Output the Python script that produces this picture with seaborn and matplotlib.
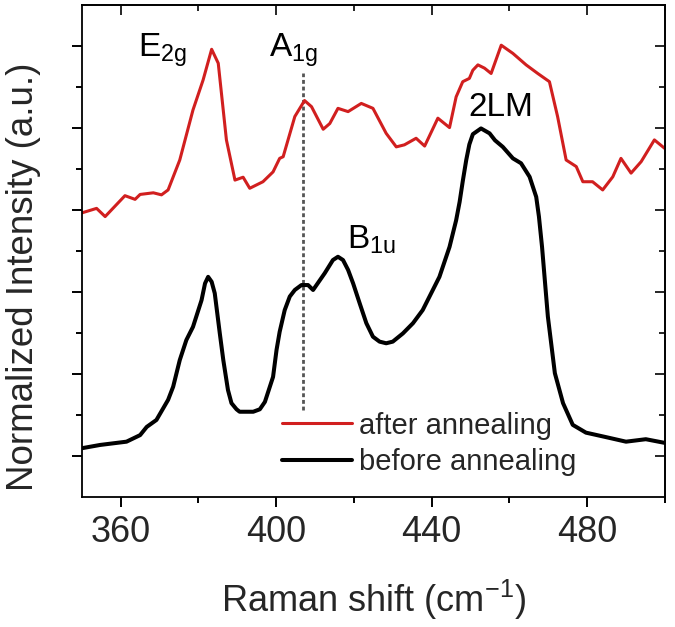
import numpy as np
import pandas as pd
import matplotlib
matplotlib.use("Agg")
import matplotlib.pyplot as plt
import seaborn as sns
from matplotlib.ticker import MultipleLocator, FixedLocator, NullFormatter

# ---------------- data ----------------
after_x = [350.0, 353.8, 356.0, 361.1, 363.7, 365.0, 368.4, 370.5, 372.2, 375.2,
           378.6, 381.2, 383.4, 385.1, 387.2, 389.4, 391.5, 393.2, 396.6, 399.2,
           400.9, 401.8, 404.8, 407.3, 409.1, 412.1, 413.8, 415.9, 418.5, 421.9,
           424.9, 428.3, 430.9, 433.0, 436.0, 438.2, 441.6, 444.6, 446.3, 448.0,
           449.7, 450.6, 451.9, 453.6, 455.3, 457.9, 460.9, 464.3, 467.3, 470.3,
           472.4, 474.6, 477.2, 478.9, 481.4, 484.0, 486.6, 488.7, 491.3, 493.9,
           497.3, 500.0]
after_y = [6.93, 7.04, 6.84, 7.35, 7.26, 7.38, 7.42, 7.37, 7.49, 8.22,
           9.44, 10.17, 10.92, 10.58, 8.71, 7.73, 7.80, 7.53, 7.69, 7.93,
           8.26, 8.30, 9.28, 9.67, 9.52, 8.97, 9.11, 9.48, 9.40, 9.60,
           9.48, 8.87, 8.54, 8.59, 8.75, 8.56, 9.24, 9.01, 9.76, 10.13,
           10.21, 10.41, 10.54, 10.46, 10.33, 11.02, 10.82, 10.54, 10.33, 10.13,
           9.28, 8.22, 8.06, 7.69, 7.69, 7.49, 7.81, 8.26, 7.90, 8.18,
           8.71, 8.50]

before_x = [350.0, 354.7, 361.5, 365.0, 366.7, 369.2, 372.2, 373.5, 375.2, 376.9,
            378.6, 380.8, 381.7, 382.5, 383.4, 384.2, 385.5, 386.4, 387.6, 388.5,
            389.8, 390.6, 394.1, 395.8, 397.1, 399.2, 400.1, 400.9, 402.2, 403.5,
            404.8, 406.5, 408.2, 409.5, 412.5, 414.6, 415.9, 417.2, 418.5, 419.8,
            421.5, 423.2, 424.9, 426.6, 428.3, 430.0, 432.6, 435.2, 437.7, 442.0,
            444.6, 446.3, 447.2, 448.0, 448.9, 449.7, 450.6, 452.7, 454.9, 456.3,
            458.3, 460.9, 463.0, 465.2, 466.9, 467.6, 468.4, 469.9, 471.7, 473.8,
            476.3, 479.7, 484.9, 490.0, 495.1, 500.0]
before_y = [1.19, 1.27, 1.35, 1.51, 1.71, 1.88, 2.37, 2.69, 3.34, 3.83,
            4.15, 4.80, 5.21, 5.37, 5.25, 4.97, 3.99, 3.34, 2.61, 2.29,
            2.14, 2.08, 2.08, 2.14, 2.32, 2.93, 3.59, 4.03, 4.56, 4.89,
            5.05, 5.17, 5.17, 5.05, 5.46, 5.78, 5.86, 5.78, 5.54, 5.21,
            4.72, 4.24, 3.91, 3.79, 3.75, 3.79, 3.99, 4.24, 4.56, 5.37,
            6.10, 6.75, 7.20, 7.70, 8.22, 8.60, 8.85, 8.99, 8.87, 8.70,
            8.54, 8.26, 8.14, 7.81, 7.32, 6.84, 6.10, 4.40, 3.02, 2.29,
            1.76, 1.57, 1.46, 1.35, 1.41, 1.32]

series_labels = ["after annealing", "before annealing"]
a1g_position = 406.9
a1g_line_y = [2.12, 10.34]

peak_labels = [r"E$_\mathrm{2g}$", r"A$_\mathrm{1g}$", r"B$_\mathrm{1u}$", "2LM"]
peak_label_x = [364.4, 398.1, 418.1, 449.5]
peak_label_y = [10.74, 10.74, 6.07, 9.29]

x_major = [360, 400, 440, 480]
y_major = [1, 3, 5, 7, 9, 11]
y_minor = [2, 4, 6, 8, 10]

# ---------------- style ----------------
sns.set_theme(style="ticks")
plt.rcParams["font.family"] = ["Liberation Sans", "DejaVu Sans"]
plt.rcParams["mathtext.fontset"] = "custom"
plt.rcParams["mathtext.rm"] = "Liberation Sans"
plt.rcParams["mathtext.it"] = "Liberation Sans:italic"
plt.rcParams["mathtext.bf"] = "Liberation Sans:bold"

fig = plt.figure(figsize=(6.75, 6.27), dpi=100)
ax = fig.add_axes([0.1212, 0.2073, 0.8638, 0.7847])

df_a = pd.DataFrame({"x": after_x, "y": after_y})
df_b = pd.DataFrame({"x": before_x, "y": before_y})

red = "#d11f1f"
sns.lineplot(data=df_a, x="x", y="y", ax=ax, color=red, lw=2.2,
             sort=False, estimator=None, label=series_labels[0],
             solid_joinstyle="round", solid_capstyle="round")
sns.lineplot(data=df_b, x="x", y="y", ax=ax, color="black", lw=2.9,
             sort=False, estimator=None, label=series_labels[1],
             solid_joinstyle="round", solid_capstyle="round")

ax.plot([a1g_position, a1g_position], a1g_line_y, color="#555555", lw=2.0,
        linestyle=(0, (1.4, 1.0)), zorder=1)

for lab, px, py in zip(peak_labels, peak_label_x, peak_label_y):
    ax.text(px, py, lab, fontsize=24, ha="left", va="baseline", color="black")

ax.set_xlim(350, 500)
ax.set_ylim(0, 12)
ax.xaxis.set_major_locator(FixedLocator(x_major))
ax.xaxis.set_minor_locator(MultipleLocator(20))
ax.yaxis.set_major_locator(FixedLocator(y_major))
ax.yaxis.set_minor_locator(FixedLocator(y_minor))
ax.yaxis.set_major_formatter(NullFormatter())

for s in ax.spines.values():
    s.set_visible(True)
    s.set_linewidth(1.3)
    s.set_color("black")

ax.tick_params(axis="both", which="major", direction="out", length=7, width=1.4,
               labelsize=26, color="black", pad=6)
ax.tick_params(axis="both", which="minor", direction="out", length=4, width=1.4,
               color="black")

secx = ax.secondary_xaxis("top")
secx.xaxis.set_major_locator(FixedLocator(x_major))
secx.xaxis.set_minor_locator(MultipleLocator(20))
secx.tick_params(which="major", direction="in", length=7, width=1.4, labeltop=False)
secx.tick_params(which="minor", direction="in", length=4, width=1.4)
secx.spines["top"].set_linewidth(1.3)

secy = ax.secondary_yaxis("right")
secy.yaxis.set_major_locator(FixedLocator(y_major))
secy.yaxis.set_minor_locator(FixedLocator(y_minor))
secy.tick_params(which="major", direction="in", length=7, width=1.4, labelright=False)
secy.tick_params(which="minor", direction="in", length=4, width=1.4)
secy.spines["right"].set_linewidth(1.3)

ax.set_xlabel(r"Raman shift (cm$^\mathrm{-1}$)", fontsize=26, labelpad=20)
ax.set_ylabel("Normalized Intensity (a.u.)", fontsize=26.5)
ax.yaxis.set_label_coords(-0.070, 0.447)

leg = ax.legend(loc="center left", bbox_to_anchor=(0.343, 0.108), frameon=False,
                fontsize=21, handlelength=2.4, handletextpad=0.25,
                borderpad=0, borderaxespad=0, labelspacing=0.3)

fig.savefig("out.png", dpi=100)
